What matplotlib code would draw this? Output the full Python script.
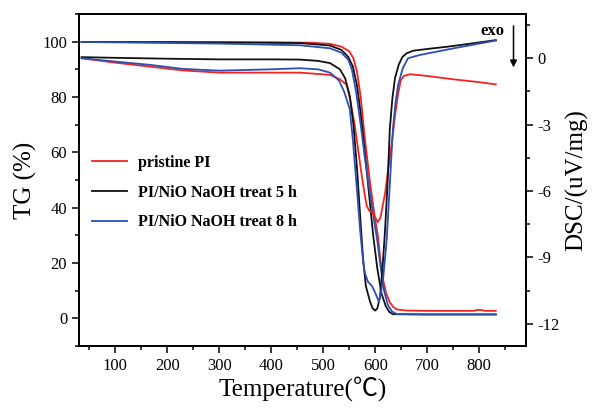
import matplotlib
matplotlib.use("Agg")
import matplotlib.pyplot as plt
from matplotlib.ticker import MultipleLocator

plt.rcParams["font.family"] = ["Liberation Serif", "DejaVu Serif"]
plt.rcParams["axes.unicode_minus"] = False

# ---- TG curves (temperature C, weight %) ----
t_tg_red = [35, 200, 400, 480, 513, 535, 550, 558, 565, 572, 580, 590, 598, 605,
            610, 615, 621, 628, 635, 642, 660, 700, 790, 795, 805, 810, 832]
tg_red = [99.9, 99.9, 99.8, 99.6, 99.2, 98.2, 96.5, 94.0, 89.0, 80.0, 65.0, 49.0,
          38.0, 30.0, 21.0, 14.0, 9.0, 5.8, 4.0, 3.2, 2.8, 2.7, 2.7, 3.0, 3.0, 2.7, 2.7]

t_tg_black = [35, 300, 455, 513, 535, 548, 557, 565, 572, 580, 588, 596, 604,
              612, 620, 627, 634, 700, 832]
tg_black = [99.9, 99.7, 99.5, 98.6, 97.0, 94.5, 91.0, 84.0, 74.0, 60.0, 45.0, 30.0,
            18.0, 9.0, 4.5, 2.3, 1.5, 1.4, 1.4]

t_tg_blue = [35, 300, 455, 513, 535, 548, 555, 563, 572, 580, 590, 598, 604,
             610, 617, 624, 632, 642, 700, 832]
tg_blue = [99.9, 99.3, 98.7, 97.6, 96.0, 93.5, 90.0, 82.0, 70.0, 58.0, 45.0, 35.0,
           28.0, 19.0, 10.0, 5.0, 2.5, 1.5, 1.4, 1.4]

# ---- DSC curves (temperature C, uV/mg) ----
t_dsc_red = [35, 100, 167, 230, 300, 400, 455, 513, 532, 545, 552, 561, 568, 574,
             580, 584, 589, 594, 600, 605, 610, 614, 619, 625, 632, 638, 644, 649,
             655, 667, 700, 750, 800, 832]
dsc_red = [0.0, -0.2, -0.38, -0.55, -0.65, -0.65, -0.65, -0.75, -0.95, -1.2, -1.9,
           -3.1, -4.3, -5.3, -6.2, -6.7, -6.9, -6.95, -7.2, -7.4, -7.2, -6.7, -6.1,
           -5.0, -3.8, -2.6, -1.6, -1.0, -0.8, -0.72, -0.8, -0.95, -1.08, -1.18]

t_dsc_black = [35, 100, 200, 300, 400, 455, 490, 513, 532, 542, 551, 558, 565, 572,
               577, 582, 590, 595, 600, 604, 609, 614, 619, 624, 628, 633, 638, 645,
               652, 660, 673, 700, 738, 780, 832]
dsc_black = [0.05, 0.02, -0.02, -0.05, -0.05, -0.06, -0.12, -0.22, -0.5, -0.9, -1.7,
             -3.0, -5.0, -7.5, -9.2, -10.3, -11.0, -11.3, -11.4, -11.3, -10.8, -9.5,
             -7.7, -5.5, -3.2, -1.8, -0.9, -0.3, 0.05, 0.22, 0.34, 0.42, 0.52, 0.65, 0.82]

t_dsc_blue = [35, 100, 167, 230, 300, 400, 455, 490, 513, 530, 540, 551, 557, 565,
              571, 576, 580, 586, 594, 600, 607, 611, 615, 622, 628, 634, 639, 644,
              653, 663, 686, 740, 790, 832]
dsc_blue = [0.0, -0.15, -0.3, -0.48, -0.56, -0.5, -0.45, -0.5, -0.65, -1.0, -1.5,
            -2.3, -3.7, -6.0, -7.8, -9.0, -9.7, -10.1, -10.3, -10.6, -11.0, -10.6,
            -10.0, -8.2, -5.7, -3.2, -2.0, -1.2, -0.45, 0.0, 0.15, 0.4, 0.62, 0.8]

labels = ["pristine PI", "PI/NiO NaOH treat 5 h", "PI/NiO NaOH treat 8 h"]
c_red, c_black, c_blue = "#f52222", "#111111", "#2c50b4"

fig = plt.figure(figsize=(5.92, 4.08), dpi=100)
ax = fig.add_axes([0.1334, 0.152, 0.7551, 0.8137])
ax2 = ax.twinx()

lw = 1.3
h1, = ax.plot(t_tg_red, tg_red, color=c_red, lw=lw)
h2, = ax.plot(t_tg_black, tg_black, color=c_black, lw=lw)
h3, = ax.plot(t_tg_blue, tg_blue, color=c_blue, lw=lw)
ax2.plot(t_dsc_red, dsc_red, color=c_red, lw=lw)
ax2.plot(t_dsc_black, dsc_black, color=c_black, lw=lw)
ax2.plot(t_dsc_blue, dsc_blue, color=c_blue, lw=lw)

ax.set_xlim(30, 890)
ax.set_ylim(-10, 110)
ax2.set_ylim(-13, 2)

ax.xaxis.set_minor_locator(MultipleLocator(50))
ax.yaxis.set_major_locator(MultipleLocator(20))
ax.yaxis.set_minor_locator(MultipleLocator(10))
ax2.yaxis.set_major_locator(MultipleLocator(3))
ax2.yaxis.set_minor_locator(MultipleLocator(1.5))
ax.set_xticks(range(100, 900, 100))

for a in (ax, ax2):
    a.tick_params(which="major", direction="out", length=5, width=1.1, labelsize=12)
    a.tick_params(which="minor", direction="out", length=3, width=1.1)
    for s in a.spines.values():
        s.set_linewidth(1.3)

ax.set_ylabel("TG (%)", fontsize=18)
ax2.set_ylabel("DSC/(uV/mg)", fontsize=18)
ax.set_xlabel("Temperature(\u2103)", fontsize=18, labelpad=2,
              family=["Liberation Serif", "Noto Sans CJK SC"])

ax2.legend([h1, h2, h3], labels, loc="upper left", bbox_to_anchor=(0.029, 0.575),
           frameon=False, borderaxespad=0, borderpad=0, handlelength=2.2,
           handletextpad=0.7, labelspacing=0.85,
           prop={"family": "Liberation Serif", "weight": "bold", "size": 11.5})

ax.annotate("", xy=(866, 89.7), xytext=(866, 106.7),
            arrowprops=dict(arrowstyle="-|>", color="black", lw=1.1,
                            mutation_scale=10))
ax.text(826, 104, "exo", ha="center", va="center", fontsize=12, fontweight="bold")

fig.savefig("out.png", dpi=100)
